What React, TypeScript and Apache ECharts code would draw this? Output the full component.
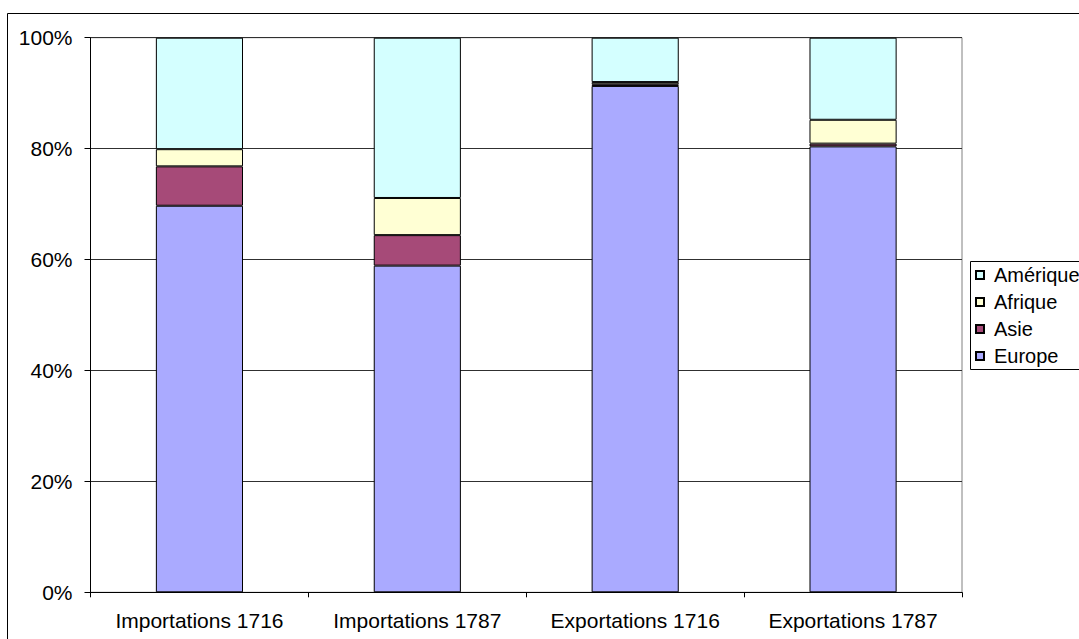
import React, { useEffect, useRef } from "react";
import * as echarts from "echarts";

const categories = ["Importations 1716", "Importations 1787", "Exportations 1716", "Exportations 1787"];
const europe = [69.7, 58.9, 91.3, 80.4];
const asie = [7.1, 5.5, 0.3, 0.5];
const afrique = [3.1, 6.7, 0.4, 4.3];
const amerique = [20.1, 28.9, 8.0, 14.8];
const legendOrder = ["Amérique", "Afrique", "Asie", "Europe"];
const yTicks = [0, 20, 40, 60, 80, 100];

const FONT = "'Liberation Sans', Arial, sans-serif";

export default function App() {
  const ref = useRef<HTMLDivElement>(null);
  useEffect(() => {
    if (!ref.current) return;
    const chart = echarts.init(ref.current, null, { renderer: "svg" });
    const mk = (name: string, data: number[], color: string) => ({
      name,
      type: "bar",
      stack: "total",
      data,
      barWidth: "40%",
      itemStyle: { color, borderColor: "#000", borderWidth: 1 },
    });
    chart.setOption({
      animation: false,
      backgroundColor: "#fff",
      textStyle: { fontFamily: FONT },
      grid: {
        left: 90.5,
        top: 37.7,
        right: 1079 - 962,
        bottom: 639 - 592.3,
        show: true,
        borderColor: "#808080",
        borderWidth: 1,
      },
      legend: {
        orient: "vertical",
        left: 975,
        top: 265,
        data: legendOrder,
        icon: "rect",
        itemWidth: 8,
        itemHeight: 8,
        itemGap: 7,
        padding: 0,
        textStyle: { fontSize: 20, lineHeight: 20, color: "#000", fontFamily: FONT, padding: [0, 0, 0, 5] },
      },
      graphic: [
        {
          type: "rect",
          shape: { x: 7.5, y: 13.5, width: 1200, height: 800 },
          style: { fill: "none", stroke: "#000", lineWidth: 1 },
          silent: true,
        },
        {
          type: "rect",
          shape: { x: 970.5, y: 261.5, width: 200, height: 108 },
          style: { fill: "none", stroke: "#000", lineWidth: 1 },
          silent: true,
        },
      ],
      xAxis: {
        type: "category",
        data: categories,
        boundaryGap: true,
        axisLine: { lineStyle: { color: "#000", width: 1 } },
        axisTick: { show: true, length: 5, lineStyle: { color: "#000" } },
        axisLabel: { interval: 0, fontSize: 21, color: "#000", margin: 18, fontFamily: FONT },
      },
      yAxis: {
        type: "value",
        min: yTicks[0],
        max: yTicks[yTicks.length - 1],
        interval: 20,
        axisLine: { show: true, lineStyle: { color: "#000", width: 1 } },
        axisTick: { show: true, length: 6, lineStyle: { color: "#000" } },
        axisLabel: { fontSize: 21, color: "#000", margin: 18, formatter: "{value}%", fontFamily: FONT },
        splitLine: { show: true, lineStyle: { color: "#303030", width: 1 } },
      },
      series: [
        mk("Europe", europe, "#AAAAFF"),
        mk("Asie", asie, "#A64A78"),
        mk("Afrique", afrique, "#FFFFD4"),
        mk("Amérique", amerique, "#D4FFFF"),
      ],
    });
    return () => chart.dispose();
  }, []);
  return (
    <div
      ref={ref}
      style={{ position: "absolute", left: 0, top: 0, width: 1079, height: 639 }}
    />
  );
}
